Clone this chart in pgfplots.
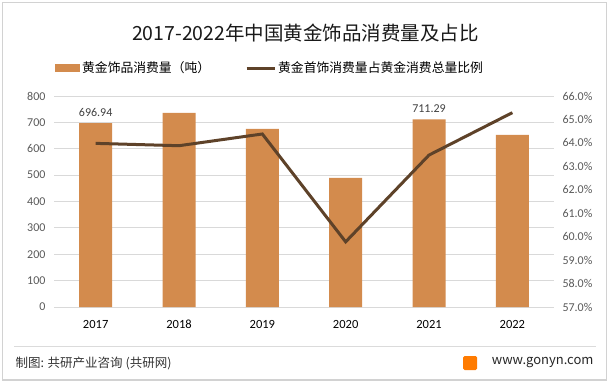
\documentclass[border=0pt]{standalone}
\usepackage{pgfplots}
\pgfplotsset{compat=1.18}
\usepackage{fontspec}
\setmainfont{Noto Sans CJK SC}
\newfontfamily\calibri{Carlito}
\definecolor{barc}{RGB}{211,139,77}
\definecolor{linec}{RGB}{94,66,41}
\definecolor{gridc}{RGB}{217,217,217}
\definecolor{tickc}{RGB}{89,89,89}
\definecolor{framec}{RGB}{210,210,210}
\begin{document}
\begin{tikzpicture}[x=1pt,y=1pt]
\path[use as bounding box] (0,0) rectangle (611,384);
\draw[framec,line width=1.3pt] (2.5,4) rectangle (606.5,381.5);
\node[anchor=center,font=\fontsize{19.5}{22}\selectfont,text=black!90] at (305.5,351) {2017-2022年中国黄金饰品消费量及占比};
\begin{axis}[
  at={(54pt,77pt)}, anchor=south west,
  width=500pt, height=211pt, scale only axis,
  xmin=-0.5, xmax=5.5, ymin=0, ymax=800,
  ytick={0,100,...,800},
  xtick={0,1,2,3,4,5},
  xticklabels={2017,2018,2019,2020,2021,2022},
  axis line style={draw=none},
  major tick length=0pt,
  ymajorgrids, grid style={gridc,line width=0.9pt},
  yticklabel style={font=\calibri\fontsize{12}{14}\selectfont,text=tickc,xshift=-5pt},
  xticklabel style={font=\calibri\fontsize{12.5}{14}\selectfont,text=black,anchor=north,text height=9pt,text depth=1pt,yshift=-9pt},
  /pgf/number format/assume math mode=true,
  legend style={at={(0.002,1.1327)},anchor=west,draw=none,fill=none,
    font=\fontsize{12.8}{14}\selectfont,legend columns=2,inner sep=0pt,
    /tikz/every even column/.append style={column sep=33pt}},
  legend cell align=left,
]
\addplot[ybar,bar width=33pt,fill=barc,draw=none,
  point meta=explicit symbolic,
  nodes near coords,
  every node near coord/.append style={font=\calibri\fontsize{12}{14}\selectfont,text=black!75,yshift=3pt},
  legend image code/.code={\fill[barc] (0pt,-4pt) rectangle (25pt,4pt);}]
  coordinates {(0,696.94)[696.94] (1,736)[] (2,675.5)[] (3,489.6)[] (4,711.29)[711.29] (5,652.8)[]};
\addlegendentry{黄金饰品消费量（吨）}
\addlegendimage{legend image code/.code={\draw[linec,line width=3pt] (0pt,0pt)--(28pt,0pt);}}
\addlegendentry{黄金首饰消费量占黄金消费总量比例}
\end{axis}
\begin{axis}[
  at={(54pt,77pt)}, anchor=south west,
  width=500pt, height=211pt, scale only axis,
  xmin=-0.5, xmax=5.5, ymin=57, ymax=66,
  ytick={57,58,...,66},
  axis y line*=right, axis x line=none,
  axis line style={draw=none},
  major tick length=0pt,
  yticklabel={\pgfmathprintnumber[fixed,fixed zerofill,precision=1]{\tick}\%},
  yticklabel style={font=\calibri\fontsize{12}{14}\selectfont,text=tickc,xshift=5pt},
  /pgf/number format/assume math mode=true,
]
\addplot[linec,line width=3pt,mark=none] coordinates {(0,63.98) (1,63.88) (2,64.38) (3,59.78) (4,63.48) (5,65.29)};
\end{axis}
\draw[framec!80,line width=1pt] (14,38) -- (596,38);
\node[anchor=west,font=\fontsize{12.5}{14}\selectfont,text=black!80] at (12,21) {制图: 共研产业咨询 (共研网)};
\fill[orange!85!red!90!yellow,rounded corners=1.5pt] (463,14) rectangle (477,28);
\node[anchor=east,font=\fontsize{13}{15}\selectfont,text=black!85] at (597,21.5) {www.gonyn.com};
\end{tikzpicture}
\end{document}
